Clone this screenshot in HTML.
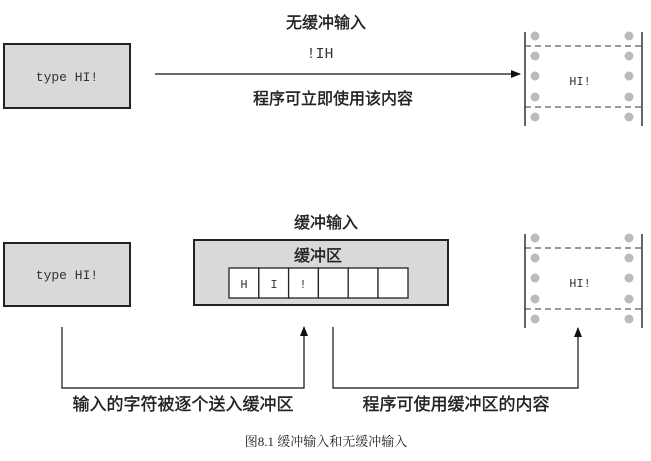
<!DOCTYPE html>
<html><head><meta charset="utf-8"><style>
body{margin:0;background:#fff;width:651px;height:456px;overflow:hidden}
svg text{font-family:"Liberation Sans","Noto Sans CJK SC",sans-serif}
.m{font-family:"Liberation Mono",monospace!important}
.c{stroke:#222;stroke-width:0.4}
</style></head><body>
<svg width="651" height="456" viewBox="0 0 651 456" xmlns="http://www.w3.org/2000/svg">
<defs><marker id="a" markerWidth="10" markerHeight="10" refX="9" refY="5" orient="auto" markerUnits="userSpaceOnUse"><path d="M0,1 L10,5 L0,9 z" fill="#111"/></marker></defs>
<!-- top -->
<text x="326" y="28" font-size="16" text-anchor="middle" fill="#222" class="c">无缓冲输入</text>
<rect x="4" y="44" width="126" height="64" fill="#d9d9d9" stroke="#222" stroke-width="2"/>
<text x="67" y="81" font-size="13" text-anchor="middle" class="m" fill="#333">type HI!</text>
<text x="320" y="58" font-size="15" text-anchor="middle" class="m" fill="#333">!IH</text>
<line x1="155" y1="74" x2="520" y2="74" stroke="#111" stroke-width="1.3" marker-end="url(#a)"/>
<text x="333" y="104" font-size="16" text-anchor="middle" fill="#222" class="c">程序可立即使用该内容</text>
<g id="film">
<line x1="525" y1="32" x2="525" y2="126" stroke="#333" stroke-width="1.5"/>
<line x1="642" y1="32" x2="642" y2="126" stroke="#333" stroke-width="1.5"/>
<line x1="525" y1="46" x2="642" y2="46" stroke="#333" stroke-dasharray="6,4"/>
<line x1="525" y1="107" x2="642" y2="107" stroke="#333" stroke-dasharray="6,4"/>
<g fill="#bbb"><circle cx="535" cy="36" r="4.5"/><circle cx="629" cy="36" r="4.5"/>
<circle cx="535" cy="56" r="4.5"/><circle cx="629" cy="56" r="4.5"/>
<circle cx="535" cy="76" r="4.5"/><circle cx="629" cy="76" r="4.5"/>
<circle cx="535" cy="97" r="4.5"/><circle cx="629" cy="97" r="4.5"/>
<circle cx="535" cy="117" r="4.5"/><circle cx="629" cy="117" r="4.5"/></g>
<text x="580" y="85" font-size="12" text-anchor="middle" class="m" fill="#333">HI!</text>
</g>
<!-- bottom -->
<text x="326" y="228" font-size="16" text-anchor="middle" fill="#222" class="c">缓冲输入</text>
<rect x="4" y="243" width="126" height="63" fill="#d9d9d9" stroke="#222" stroke-width="2"/>
<text x="67" y="279" font-size="13" text-anchor="middle" class="m" fill="#333">type HI!</text>
<rect x="194" y="240" width="254" height="65" fill="#d9d9d9" stroke="#222" stroke-width="2"/>
<text x="318" y="261" font-size="16" text-anchor="middle" fill="#222" class="c">缓冲区</text>
<g fill="#fff" stroke="#222" stroke-width="1.3">
<rect x="229" y="268" width="29.8" height="30"/><rect x="258.8" y="268" width="29.8" height="30"/><rect x="288.6" y="268" width="29.8" height="30"/><rect x="318.4" y="268" width="29.8" height="30"/><rect x="348.2" y="268" width="29.8" height="30"/><rect x="378" y="268" width="30" height="30"/></g>
<g font-size="12" text-anchor="middle" fill="#333"><text x="244" y="288" class="m">H</text><text x="274" y="288" class="m">I</text><text x="303" y="288" class="m">!</text></g>
<use href="#film" transform="translate(0,202)"/>
<polyline points="62,327 62,388 304,388 304,327" fill="none" stroke="#111" stroke-width="1.2" marker-end="url(#a)"/>
<polyline points="333,327 333,388 578,388 578,328" fill="none" stroke="#111" stroke-width="1.2" marker-end="url(#a)"/>
<text x="183" y="410" font-size="17" text-anchor="middle" fill="#222" class="c">输入的字符被逐个送入缓冲区</text>
<text x="456" y="410" font-size="17" text-anchor="middle" fill="#222" class="c">程序可使用缓冲区的内容</text>
<text x="326" y="446" font-size="13" text-anchor="middle" fill="#222" style="font-family:'Liberation Serif','Noto Serif CJK SC',serif">图8.1 缓冲输入和无缓冲输入</text>
</svg>
</body></html>
